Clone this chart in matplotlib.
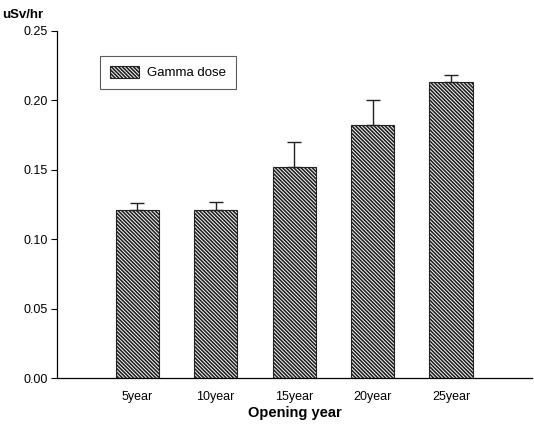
import matplotlib
matplotlib.use('Agg')
import matplotlib.pyplot as plt
import numpy as np

plt.rcParams['font.family'] = ['Liberation Sans', 'DejaVu Sans']
plt.rcParams['hatch.linewidth'] = 1.2

# ── Data ───────────────────────────────────────────────────────────────────────
categories = ['5year', '10year', '15year', '20year', '25year']
dose       = [0.121, 0.121, 0.152, 0.182, 0.213]
dose_err   = [0.005, 0.006, 0.018, 0.018, 0.005]
y_ticks    = [0.00, 0.05, 0.10, 0.15, 0.20, 0.25]

fig = plt.figure(figsize=(5.34, 4.30), dpi=100)
ax = fig.add_axes([0.107, 0.12, 0.889, 0.808])

x = np.arange(len(categories))
ax.bar(x, dose, width=0.55, color='white', edgecolor='#222222',
       hatch='\\' * 9, linewidth=0.8, label='Gamma dose',
       yerr=[np.zeros(len(dose_err)), dose_err],
       error_kw=dict(ecolor='#222222', elinewidth=1.0, capsize=5, capthick=1.0))

ax.set_xlim(-1.02, 5.03)
ax.set_ylim(0, 0.25)
ax.set_xticks(x)
ax.set_xticklabels(categories, fontsize=9)
ax.set_yticks(y_ticks)
ax.set_yticklabels([f'{v:.2f}' for v in y_ticks], fontsize=9)
ax.tick_params(axis='x', length=0, pad=9)
ax.tick_params(axis='y', length=4, width=0.8, direction='out', pad=3)

for side in ['top', 'right']:
    ax.spines[side].set_visible(False)
ax.spines['left'].set_linewidth(0.9)
ax.spines['bottom'].set_linewidth(0.9)

ax.set_xlabel('Opening year', fontsize=10.5, fontweight='bold', labelpad=2)
fig.text(0.004, 0.965, 'uSv/hr', fontsize=9.5, fontweight='bold', ha='left', va='center')

# legend box sits at about x=100..238, y=56..90 px in the reference
leg = ax.legend(loc='upper left', bbox_to_anchor=(0.09, 0.928), fontsize=9.5,
                frameon=True, fancybox=False, edgecolor='#333333',
                handlelength=2.2, handleheight=1.0, handletextpad=0.6,
                borderpad=0.75, borderaxespad=0)
leg.get_frame().set_linewidth(0.8)

fig.savefig('out.png', dpi=100)
